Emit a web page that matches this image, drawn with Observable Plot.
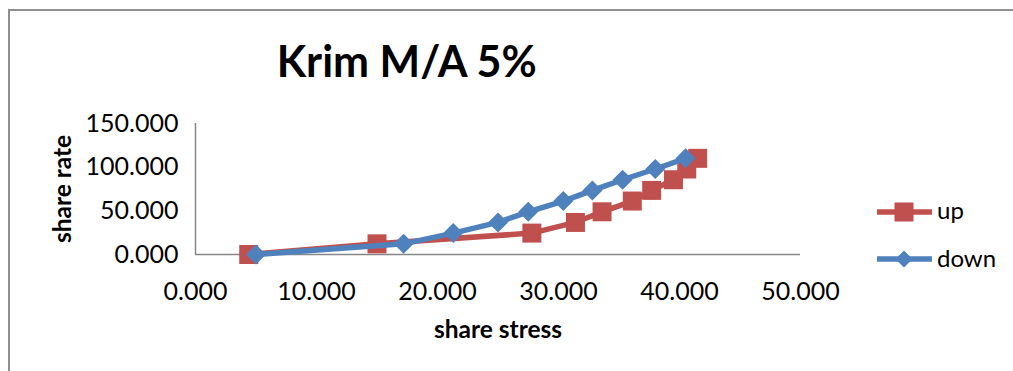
<!DOCTYPE html>
<html>
<head>
<meta charset="utf-8">
<script src="https://cdn.jsdelivr.net/npm/d3@7"></script>
<script src="https://cdn.jsdelivr.net/npm/@observablehq/plot@0.6"></script>
<style>
  html, body { margin: 0; padding: 0; background: #fff; overflow: hidden; }
  #chart { position: relative; width: 1013px; height: 371px; overflow: hidden; }
  #chart svg { position: absolute; left: 0; top: 0; }
  #border {
    position: absolute; left: 8px; top: 9px; width: 1200px; height: 600px;
    border-top: 2px solid #8e8e8e; border-left: 2px solid #8e8e8e;
  }
</style>
</head>
<body>
<div id="chart"><div id="border"></div></div>
<script>
// Flow curve: shear stress vs shear rate, ramp up and ramp down
const upStress   = [4.4, 15.0, 27.8, 31.4, 33.6, 36.1, 37.7, 39.5, 40.6, 41.5];
const upRate     = [0, 12.2, 24.5, 36.7, 48.9, 61.2, 73.4, 85.6, 97.9, 110.1];
const downStress = [5.0, 17.2, 21.3, 25.0, 27.5, 30.4, 32.8, 35.3, 38.0, 40.5];
const downRate   = [0, 12.2, 24.5, 36.7, 48.9, 61.2, 73.4, 85.6, 97.9, 110.1];

const xTicks = [0, 10, 20, 30, 40, 50];
const yTicks = [0, 50, 100, 150];
const seriesNames = ["up", "down"];
const seriesColors = ["#C0504D", "#4F81BD"];
const titleText = "Krim M/A 5%";
const xLabel = "share stress";
const yLabel = "share rate";

const FONT = "Lato, 'Open Sans', sans-serif";

// Symbols whose half-size equals the dot radius r
const squareSym = {
  draw(ctx, size) { const r = Math.sqrt(size / Math.PI); ctx.rect(-r, -r, 2 * r, 2 * r); }
};
const diamondSym = {
  draw(ctx, size) {
    const r = Math.sqrt(size / Math.PI);
    ctx.moveTo(0, -r); ctx.lineTo(r, 0); ctx.lineTo(0, r); ctx.lineTo(-r, 0); ctx.closePath();
  }
};
const symbols = [squareSym, diamondSym];

const upRows = upStress.map((s, i) => ({stress: s, rate: upRate[i]}));
const downRows = downStress.map((s, i) => ({stress: s, rate: downRate[i]}));

const fmt = d3.format(".3f");
const axisGray = "#868686";

const svg = Plot.plot({
  width: 1013,
  height: 371,
  marginLeft: 195,
  marginRight: 213,
  marginTop: 123,
  marginBottom: 117,
  style: {fontFamily: FONT, color: "#000", background: "transparent"},
  x: {domain: [0, 50]},
  y: {domain: [0, 150]},
  marks: [
    Plot.axisY({ticks: yTicks, tickFormat: fmt, tickSize: 0, tickPadding: 17, fontSize: 25, label: null}),
    Plot.axisX({ticks: xTicks, tickFormat: fmt, tickSize: 0, tickPadding: 28, fontSize: 25, label: null}),
    Plot.ruleX([0], {stroke: axisGray, strokeWidth: 1.5}),
    Plot.ruleY([0], {stroke: axisGray, strokeWidth: 1.5}),
    Plot.line(upRows, {x: "stress", y: "rate", stroke: seriesColors[0], strokeWidth: 5.5}),
    Plot.dot(upRows, {x: "stress", y: "rate", symbol: squareSym, r: 9.5, fill: seriesColors[0], stroke: "none"}),
    Plot.line(downRows, {x: "stress", y: "rate", stroke: seriesColors[1], strokeWidth: 5.5}),
    Plot.dot(downRows, {x: "stress", y: "rate", symbol: diamondSym, r: 10, fill: seriesColors[1], stroke: "none"}),
    Plot.text([xLabel], {
      text: d => d, frameAnchor: "bottom", dy: 76, lineAnchor: "middle", textAnchor: "middle",
      fontSize: 24.5, fontWeight: "bold"
    }),
    Plot.text([yLabel], {
      text: d => d, frameAnchor: "left", dx: -132, rotate: -90, lineAnchor: "middle", textAnchor: "middle",
      fontSize: 24.5, fontWeight: "bold"
    })
  ]
});

const root = d3.select(svg);

// Chart title
root.append("text")
  .attr("x", 406.7).attr("y", 76.7)
  .attr("text-anchor", "middle")
  .attr("font-family", FONT).attr("font-weight", "bold").attr("font-size", 43)
  .attr("fill", "#000")
  .text(titleText);

// Legend: line + marker + name
const legend = root.append("g")
  .attr("font-family", FONT).attr("font-size", 24).attr("text-anchor", "start");
const legendY = [212, 259];
seriesNames.forEach((name, i) => {
  const g = legend.append("g").attr("transform", `translate(0,${legendY[i]})`);
  g.append("line").attr("x1", 877).attr("x2", 932).attr("y1", 0).attr("y2", 0)
    .attr("stroke", seriesColors[i]).attr("stroke-width", 5.5);
  const p = d3.path();
  symbols[i].draw(p, Math.PI * (i === 0 ? 9.5 : 8.5) ** 2);
  g.append("path").attr("d", p.toString()).attr("transform", "translate(904,0)")
    .attr("fill", seriesColors[i]);
  g.append("text").attr("x", 937).attr("y", i === 0 ? 6.5 : 7.5)
    .attr("text-anchor", "start").attr("fill", "#000").text(name);
});

document.getElementById("chart").appendChild(svg);
</script>
</body>
</html>
